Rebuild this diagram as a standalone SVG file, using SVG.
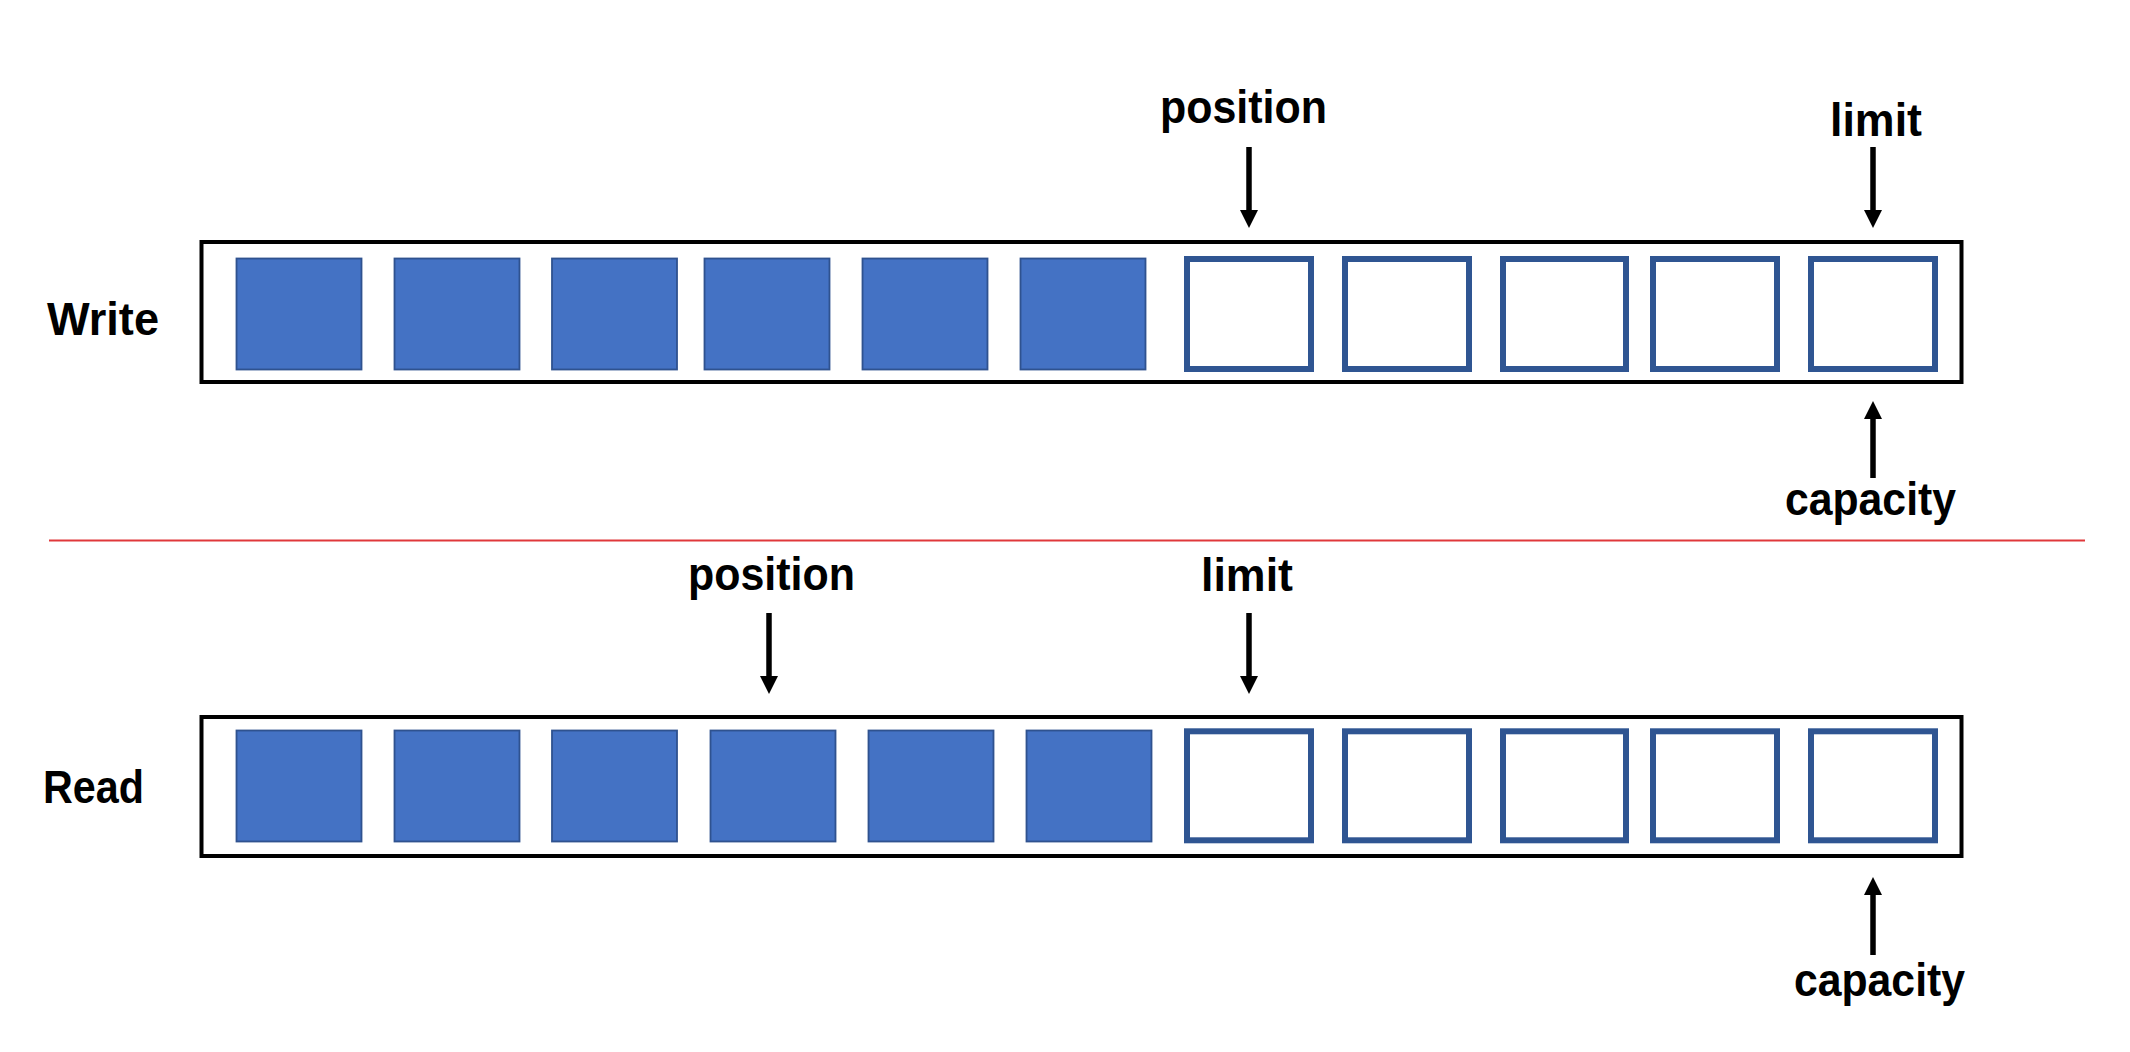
<svg xmlns="http://www.w3.org/2000/svg" width="2130" height="1052" viewBox="0 0 2130 1052">
<style>
  .lbl { font-family: "Liberation Sans", Arial, sans-serif; font-weight: bold; font-size: 46px; fill: #000; }
  .frame { fill: #fff; stroke: #000; stroke-width: 4; }
  .full { fill: #4472C4; stroke: #2F528F; stroke-width: 1.8; }
  .empty { fill: #fff; stroke: #2F5592; stroke-width: 6; }
  .shaft { stroke: #000; stroke-width: 5.5; fill: none; }
  .head { fill: #000; }
</style>
<rect width="2130" height="1052" fill="#fff"/>

<g id="write-buffer">
  <text class="lbl" x="47" y="335" textLength="112" lengthAdjust="spacingAndGlyphs">Write</text>
  <rect class="frame" x="201.5" y="242" width="1760" height="140"/>
  <rect class="full" x="236.5" y="258.5" width="125" height="111"/>
  <rect class="full" x="394.5" y="258.5" width="125" height="111"/>
  <rect class="full" x="552" y="258.5" width="125" height="111"/>
  <rect class="full" x="704.5" y="258.5" width="125" height="111"/>
  <rect class="full" x="862.5" y="258.5" width="125" height="111"/>
  <rect class="full" x="1020.5" y="258.5" width="125" height="111"/>
  <rect class="empty" x="1187" y="259" width="124" height="110"/>
  <rect class="empty" x="1345" y="259" width="124" height="110"/>
  <rect class="empty" x="1503" y="259" width="123" height="110"/>
  <rect class="empty" x="1653" y="259" width="124" height="110"/>
  <rect class="empty" x="1811" y="259" width="124" height="110"/>
</g>

<g id="write-position-label"><text class="lbl" x="1160" y="123" textLength="167" lengthAdjust="spacingAndGlyphs">position</text></g>
<g id="write-limit-label"><text class="lbl" x="1830" y="136" textLength="92" lengthAdjust="spacingAndGlyphs">limit</text></g>
<g id="write-capacity-label"><text class="lbl" x="1785" y="515" textLength="171" lengthAdjust="spacingAndGlyphs">capacity</text></g>

<g id="divider">
  <line x1="49" y1="540.5" x2="2085" y2="540.5" stroke="#E0383B" stroke-width="2.2"/>
</g>

<g id="read-buffer">
  <text class="lbl" x="43" y="803" textLength="101" lengthAdjust="spacingAndGlyphs">Read</text>
  <rect class="frame" x="201.5" y="717" width="1760" height="139"/>
  <rect class="full" x="236.5" y="730.5" width="125" height="111"/>
  <rect class="full" x="394.5" y="730.5" width="125" height="111"/>
  <rect class="full" x="552" y="730.5" width="125" height="111"/>
  <rect class="full" x="710.5" y="730.5" width="125" height="111"/>
  <rect class="full" x="868.5" y="730.5" width="125" height="111"/>
  <rect class="full" x="1026.5" y="730.5" width="125" height="111"/>
  <rect class="empty" x="1187" y="731.3" width="124" height="109"/>
  <rect class="empty" x="1345" y="731.3" width="124" height="109"/>
  <rect class="empty" x="1503" y="731.3" width="123" height="109"/>
  <rect class="empty" x="1653" y="731.3" width="124" height="109"/>
  <rect class="empty" x="1811" y="731.3" width="124" height="109"/>
</g>

<g id="read-position-label"><text class="lbl" x="688" y="590" textLength="167" lengthAdjust="spacingAndGlyphs">position</text></g>
<g id="read-limit-label"><text class="lbl" x="1201" y="591" textLength="92" lengthAdjust="spacingAndGlyphs">limit</text></g>
<g id="read-capacity-label"><text class="lbl" x="1794" y="996" textLength="171" lengthAdjust="spacingAndGlyphs">capacity</text></g>

<g id="connectors">
  <line class="shaft" x1="1249" y1="147" x2="1249" y2="213"/>
  <polygon class="head" points="1240,210 1258,210 1249,228"/>
  <line class="shaft" x1="1873" y1="147" x2="1873" y2="213"/>
  <polygon class="head" points="1864,210 1882,210 1873,228"/>
  <line class="shaft" x1="1873" y1="416" x2="1873" y2="478"/>
  <polygon class="head" points="1864,419 1882,419 1873,401"/>
  <line class="shaft" x1="769" y1="613" x2="769" y2="679"/>
  <polygon class="head" points="760,676 778,676 769,694"/>
  <line class="shaft" x1="1249" y1="613" x2="1249" y2="679"/>
  <polygon class="head" points="1240,676 1258,676 1249,694"/>
  <line class="shaft" x1="1873" y1="892" x2="1873" y2="955"/>
  <polygon class="head" points="1864,895 1882,895 1873,877"/>
</g>
</svg>
